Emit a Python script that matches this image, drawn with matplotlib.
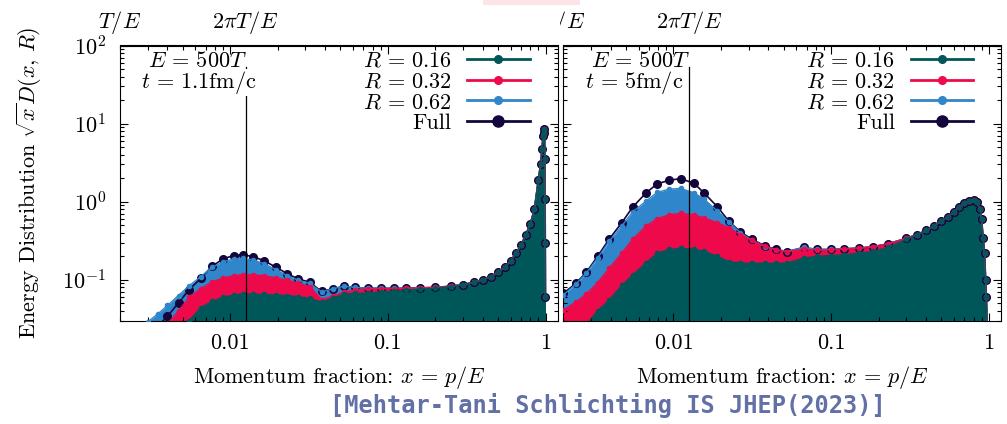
import numpy as np
import matplotlib
matplotlib.use('agg')
import matplotlib.pyplot as plt
from matplotlib.patches import Rectangle
from matplotlib.ticker import FixedLocator, FixedFormatter, NullLocator

plt.rcParams['font.family'] = 'serif'
plt.rcParams['font.serif'] = ['cmr10']
plt.rcParams['mathtext.fontset'] = 'cm'
plt.rcParams['axes.formatter.use_mathtext'] = True
plt.rcParams['font.size'] = 16

TEAL = '#00575a'
RED = '#ee0a4a'
BLUE = '#3086ca'
NAVY = '#14063c'

# jet energy E = 500 T
x_T = 1 / 500
x_2piT = 2 * np.pi / 500

# t = 1.1 fm/c
x_early = [0.0030, 0.0035, 0.0040, 0.0047, 0.0055, 0.0065, 0.0077, 0.0090, 0.0105, 0.0120,
           0.0140, 0.0165, 0.0195, 0.023, 0.027, 0.032, 0.038, 0.045, 0.053, 0.062,
           0.075, 0.09, 0.11, 0.13, 0.16, 0.20, 0.25, 0.30, 0.35, 0.40,
           0.45, 0.50, 0.55, 0.60, 0.65, 0.70, 0.75, 0.80, 0.85, 0.90,
           0.93, 0.95, 0.965, 0.975, 0.985, 0.990, 0.994, 0.997, 0.999]
full_early = [0.019, 0.026, 0.034, 0.051, 0.075, 0.105, 0.150, 0.185, 0.205, 0.210,
              0.198, 0.175, 0.145, 0.120, 0.103, 0.093, 0.071, 0.077, 0.083, 0.080,
              0.078, 0.078, 0.078, 0.078, 0.079, 0.080, 0.083, 0.087, 0.093, 0.100,
              0.110, 0.125, 0.145, 0.175, 0.220, 0.280, 0.380, 0.520, 0.800, 1.90,
              3.00, 4.80, 7.00, 8.50, 7.50, 3.50, 1.10, 0.30, 0.06]
r62_early = [0.029, 0.037, 0.047, 0.063, 0.084, 0.110, 0.145, 0.170, 0.185, 0.188,
             0.180, 0.160, 0.135, 0.113, 0.099, 0.090, 0.070, 0.077, 0.083, 0.080,
             0.078, 0.078, 0.078, 0.078, 0.079, 0.080, 0.083, 0.087, 0.093, 0.100,
             0.110, 0.125, 0.145, 0.175, 0.220, 0.280, 0.380, 0.520, 0.800, 1.90,
             3.00, 4.80, 7.00, 8.50, 7.50, 3.50, 1.10, 0.30, 0.06]
r32_early = [0.012, 0.018, 0.027, 0.040, 0.060, 0.077, 0.094, 0.106, 0.113, 0.117,
             0.116, 0.113, 0.106, 0.099, 0.091, 0.082, 0.056, 0.062, 0.070, 0.074,
             0.076, 0.077, 0.077, 0.078, 0.079, 0.080, 0.083, 0.087, 0.093, 0.100,
             0.110, 0.125, 0.145, 0.175, 0.220, 0.280, 0.380, 0.520, 0.800, 1.90,
             3.00, 4.80, 7.00, 8.50, 7.50, 3.50, 1.10, 0.30, 0.06]
r16_early = [0.005, 0.008, 0.012, 0.019, 0.030, 0.044, 0.053, 0.060, 0.064, 0.066,
             0.066, 0.065, 0.064, 0.063, 0.061, 0.058, 0.052, 0.059, 0.066, 0.067,
             0.068, 0.070, 0.072, 0.074, 0.076, 0.078, 0.082, 0.087, 0.093, 0.100,
             0.110, 0.125, 0.145, 0.175, 0.220, 0.280, 0.380, 0.520, 0.800, 1.90,
             3.00, 4.80, 7.00, 8.50, 7.50, 3.50, 1.10, 0.30, 0.06]

# t = 5 fm/c
x_late = [0.0020, 0.0024, 0.0028, 0.0033, 0.0039, 0.0047, 0.0055, 0.0067, 0.0079, 0.0094,
          0.0111, 0.0135, 0.0156, 0.019, 0.0225, 0.0266, 0.0315, 0.0383, 0.045, 0.0525,
          0.0668, 0.081, 0.10, 0.12, 0.15, 0.185, 0.23, 0.30, 0.35, 0.40,
          0.45, 0.50, 0.55, 0.60, 0.65, 0.70, 0.75, 0.80, 0.84, 0.88,
          0.90, 0.92, 0.94, 0.955, 0.965, 0.975]
full_late = [0.067, 0.090, 0.125, 0.200, 0.330, 0.540, 0.850, 1.30, 1.70, 1.88,
             1.98, 1.72, 1.30, 0.86, 0.56, 0.41, 0.33, 0.27, 0.245, 0.230,
             0.260, 0.245, 0.245, 0.250, 0.255, 0.266, 0.290, 0.340, 0.380, 0.430,
             0.490, 0.570, 0.640, 0.740, 0.860, 0.950, 1.02, 1.05, 0.98, 0.80,
             0.61, 0.34, 0.22, 0.100, 0.060, 0.025]
r62_late = [0.064, 0.088, 0.122, 0.190, 0.310, 0.490, 0.740, 1.02, 1.32, 1.45,
            1.48, 1.30, 1.08, 0.76, 0.55, 0.40, 0.32, 0.265, 0.243, 0.230,
            0.260, 0.245, 0.245, 0.250, 0.255, 0.266, 0.290, 0.340, 0.380, 0.430,
            0.490, 0.570, 0.640, 0.740, 0.860, 0.950, 1.02, 1.05, 0.98, 0.80,
            0.61, 0.34, 0.22, 0.100, 0.060, 0.025]
r32_late = [0.041, 0.052, 0.066, 0.092, 0.140, 0.220, 0.330, 0.490, 0.610, 0.680,
            0.710, 0.680, 0.620, 0.540, 0.460, 0.380, 0.320, 0.270, 0.243, 0.228,
            0.248, 0.240, 0.242, 0.247, 0.255, 0.266, 0.290, 0.340, 0.380, 0.430,
            0.490, 0.570, 0.640, 0.740, 0.860, 0.950, 1.02, 1.05, 0.98, 0.80,
            0.61, 0.34, 0.22, 0.100, 0.060, 0.025]
r16_late = [0.012, 0.017, 0.027, 0.040, 0.055, 0.085, 0.115, 0.165, 0.220, 0.245,
            0.254, 0.245, 0.232, 0.200, 0.170, 0.165, 0.163, 0.163, 0.163, 0.164,
            0.190, 0.200, 0.205, 0.210, 0.220, 0.232, 0.260, 0.330, 0.380, 0.430,
            0.490, 0.570, 0.640, 0.740, 0.860, 0.950, 1.02, 1.05, 0.98, 0.80,
            0.61, 0.34, 0.22, 0.100, 0.060, 0.025]

r_labels = [r'$R\,=\,0.16$', r'$R\,=\,0.32$', r'$R\,=\,0.62$']


def draw_panel(ax, x, full, r16, r32, r62, time_text, time_x, mask_line):
    # filled distributions, widest cone first
    for y, c in ((r62, BLUE), (r32, RED), (r16, TEAL)):
        ax.fill_between(x, 1e-3, y, color=c, lw=0, zorder=1)
    full_ln, = ax.plot(x, full, '-o', color=NAVY, lw=1.2, ms=5.5, label='Full', zorder=2)
    lines = []
    for y, c, lab in ((r62, BLUE, r_labels[2]), (r32, RED, r_labels[1]), (r16, TEAL, r_labels[0])):
        ln, = ax.plot(x, y, '-o', color=c, lw=1.0, ms=3, label=lab, zorder=3)
        lines.append(ln)

    ax.axvline(x_2piT, ymax=0.922, color='black', lw=0.9, zorder=4)

    ax.set_xscale('log')
    ax.set_yscale('log')
    ax.set_xlim(0.002, 1.2)
    ax.set_ylim(0.03, 100)
    ax.xaxis.set_major_locator(FixedLocator([0.01, 0.1, 1]))
    ax.xaxis.set_major_formatter(FixedFormatter(['0.01', '0.1', '1']))
    ax.tick_params(which='both', direction='in', top=True, right=True, width=0.8)
    ax.tick_params(which='major', length=6)
    ax.tick_params(which='minor', length=3)
    ax.tick_params(axis='x', pad=9)
    ax.tick_params(axis='y', pad=10)
    ax.set_xlabel(r'Momentum fraction: $x\,=\,p/E$', labelpad=8)

    top = ax.secondary_xaxis('top')
    top.set_xticks([x_T, x_2piT], labels=[r'$T/E$', r'$2\pi T/E$'])
    top.xaxis.set_minor_locator(NullLocator())
    top.tick_params(length=0, pad=7)

    ax.text(0.176, 0.945, r'$E\,=\,500T$', transform=ax.transAxes, ha='center', va='center',
            zorder=5)
    box = dict(fc='white', ec='none', pad=0) if mask_line else None
    ax.text(time_x, 0.867, time_text, transform=ax.transAxes, ha='center', va='center',
            bbox=box, zorder=5)

    leg = ax.legend(handles=[lines[2], lines[1], lines[0], full_ln], loc='upper right',
                    bbox_to_anchor=(0.935, 0.979), frameon=False, markerfirst=False,
                    handlelength=2.8, handletextpad=0.7, labelspacing=0.05,
                    borderpad=0, borderaxespad=0)
    for h in leg.legend_handles[:3]:
        h.set_linewidth(2)
        h.set_markersize(5.5)
    leg.legend_handles[3].set_markersize(8)
    leg.legend_handles[3].set_linewidth(2)


fig = plt.figure(figsize=(10.07, 4.24), dpi=100)
ax1 = fig.add_axes([120 / 1007, 103.3 / 424, 438 / 1007, 275.2 / 424])
ax2 = fig.add_axes([563.3 / 1007, 103.3 / 424, 438 / 1007, 275.2 / 424])

draw_panel(ax1, x_early, full_early, r16_early, r32_early, r62_early,
           r'$t\,=\,1.1\mathrm{fm/c}$', 0.18, True)
draw_panel(ax2, x_late, full_late, r16_late, r32_late, r62_late,
           r'$t\,=\,5\mathrm{fm/c}$', 0.162, False)

ax1.set_ylabel(r'Energy Distribution $\sqrt{x}D(x,\,R)$', labelpad=13)
ax2.tick_params(axis='y', labelleft=False)

# strip along the top edge and the clipped label between the panels
fig.add_artist(Rectangle((483 / 1007, 1 - 5 / 424), 97 / 1007, 5 / 424,
                         transform=fig.transFigure, fc='#fde4e8', ec='none', zorder=10))
fig.add_artist(Rectangle((530 / 1007, 1 - 42 / 424), 29.5 / 1007, 34 / 424,
                         transform=fig.transFigure, fc='white', ec='none', zorder=10))

fig.text(608 / 1007, 1 - 405 / 424, '[Mehtar-Tani Schlichting IS JHEP(2023)]',
         family='DejaVu Sans Mono', weight='bold', color='#6270a6', fontsize=17,
         ha='center', va='center')

fig.savefig('out.png', dpi=100)
plt.close(fig)
